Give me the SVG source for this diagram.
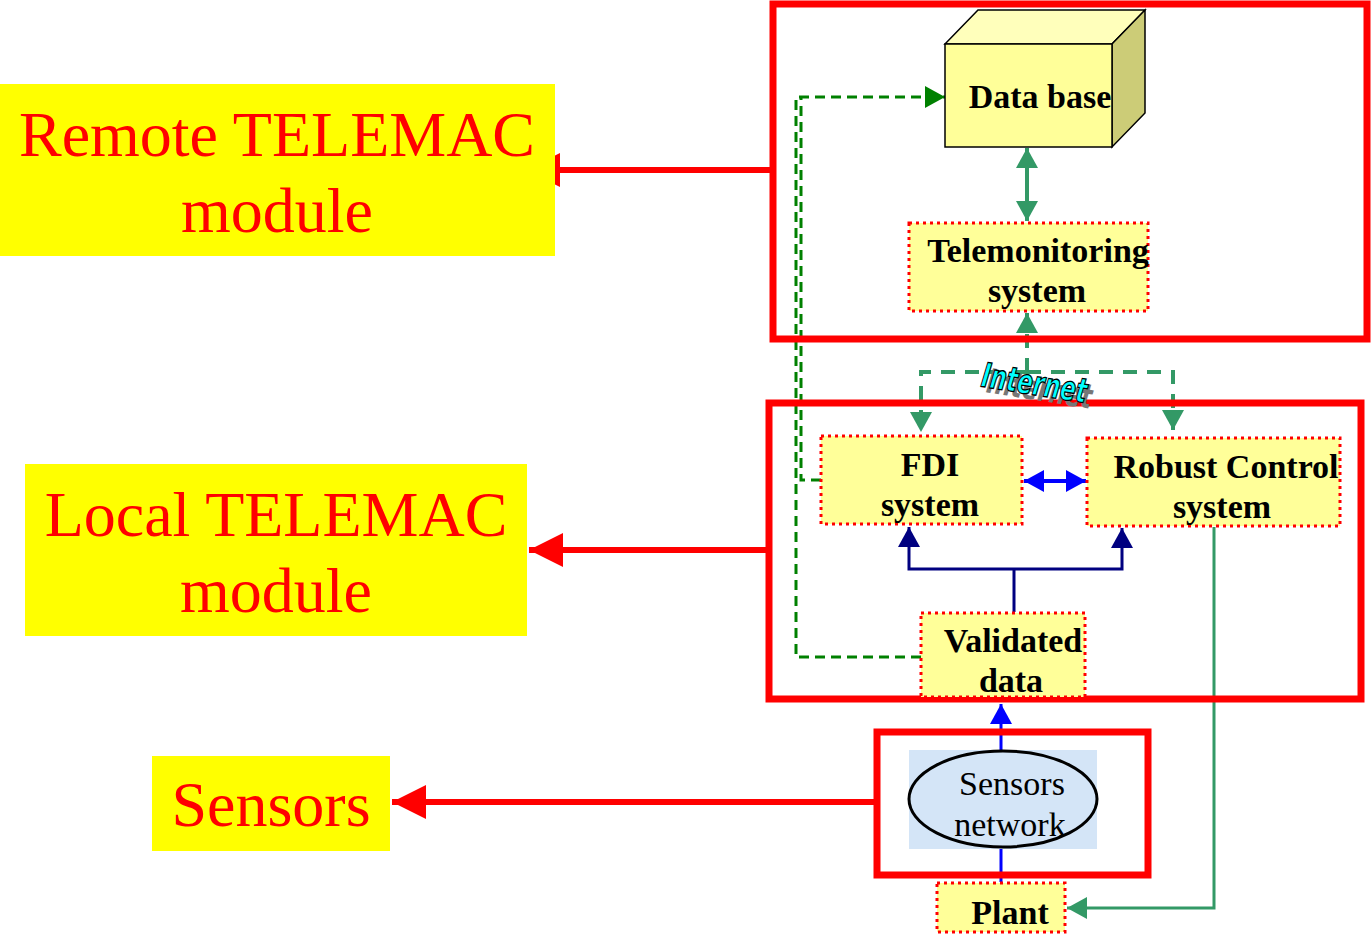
<svg xmlns="http://www.w3.org/2000/svg" width="1372" height="938" viewBox="0 0 1372 938">
<style>
.lbl{fill:#FFFF00}
.lt{font-family:"Liberation Serif",serif;fill:#FF0000;text-anchor:middle}
.frame{fill:none;stroke:#FF0000;stroke-width:7}
.box{fill:#FFFF99;stroke:#FF0000;stroke-width:3;stroke-dasharray:3 4}
.bt{font-family:"Liberation Serif",serif;font-weight:bold;font-size:34px;fill:#000;text-anchor:middle}
.redline{stroke:#FF0000;stroke-width:6;fill:none}
.gdash{stroke:#339966;stroke-width:4;fill:none;stroke-dasharray:14 10}
.ddash{stroke:#008000;stroke-width:3;fill:none;stroke-dasharray:10 6}
</style>
<defs>
<marker id="redArrow" markerWidth="36" markerHeight="36" refX="34" refY="17" orient="auto" markerUnits="userSpaceOnUse"><path d="M0,0 L34,17 L0,34 Z" fill="#FF0000"/></marker>
<marker id="gArrow" markerWidth="22" markerHeight="22" refX="20" refY="11" orient="auto" markerUnits="userSpaceOnUse"><path d="M0,0 L20,11 L0,22 Z" fill="#339966"/></marker>
<marker id="dgArrow" markerWidth="22" markerHeight="22" refX="20" refY="11" orient="auto" markerUnits="userSpaceOnUse"><path d="M0,0 L20,11 L0,22 Z" fill="#008000"/></marker>
<marker id="bArrow" markerWidth="22" markerHeight="22" refX="20" refY="11" orient="auto" markerUnits="userSpaceOnUse"><path d="M0,0 L20,11 L0,22 Z" fill="#0000FF"/></marker>
<marker id="nArrow" markerWidth="22" markerHeight="22" refX="20" refY="11" orient="auto" markerUnits="userSpaceOnUse"><path d="M0,0 L20,11 L0,22 Z" fill="#000080"/></marker>
</defs>
<rect width="1372" height="938" fill="#FFFFFF"/>

<g id="connectors">
<path class="redline" d="M770,170 L526,170" marker-end="url(#redArrow)"/>
<path class="redline" d="M766,550 L529,550" marker-end="url(#redArrow)"/>
<path class="redline" d="M875,802 L392,802" marker-end="url(#redArrow)"/>
<path d="M1027,170 L1027,200" stroke="#339966" stroke-width="4"/>
<path d="M1027,185 L1027,148" stroke="#339966" stroke-width="4" marker-end="url(#gArrow)"/>
<path d="M1027,185 L1027,221" stroke="#339966" stroke-width="4" marker-end="url(#gArrow)"/>
<path class="gdash" d="M1027,372 L1027,313" marker-end="url(#gArrow)"/>
<path class="gdash" d="M1027,372 L921,372 L921,432" marker-end="url(#gArrow)"/>
<path class="gdash" d="M1027,372 L1173,372 L1173,430" marker-end="url(#gArrow)"/>
<path class="ddash" d="M921,657 L796,657 L796,97 L945,97" marker-end="url(#dgArrow)"/>
<path class="ddash" d="M821,480 L801,480 L801,97"/>
<path d="M1054,481 L1024,481" stroke="#0000FF" stroke-width="4" marker-end="url(#bArrow)"/>
<path d="M1054,481 L1086,481" stroke="#0000FF" stroke-width="4" marker-end="url(#bArrow)"/>
<path d="M1014,612 L1014,569" stroke="#000080" stroke-width="3" fill="none"/>
<path d="M1014,569 L909,569 L909,527" stroke="#000080" stroke-width="3" fill="none" marker-end="url(#nArrow)"/>
<path d="M1014,569 L1122,569 L1122,528" stroke="#000080" stroke-width="3" fill="none" marker-end="url(#nArrow)"/>
<path d="M1214,527 L1214,908 L1067,908" stroke="#339966" stroke-width="3" fill="none" marker-end="url(#gArrow)"/>
<path d="M1001,882 L1001,849" stroke="#0000FF" stroke-width="3"/>
<path d="M1001,751 L1001,704" stroke="#0000FF" stroke-width="3" marker-end="url(#bArrow)"/>
</g>

<g id="remote-label">
<rect class="lbl" x="0" y="84" width="555" height="172"/>
<text class="lt" x="277" y="156" font-size="64">Remote TELEMAC</text>
<text class="lt" x="277" y="232" font-size="64">module</text>
</g>
<g id="local-label">
<rect class="lbl" x="25" y="464" width="502" height="172"/>
<text class="lt" x="276" y="536" font-size="64">Local TELEMAC</text>
<text class="lt" x="276" y="612" font-size="64">module</text>
</g>
<g id="sensors-label">
<rect class="lbl" x="152" y="756" width="238" height="95"/>
<text class="lt" x="271" y="826" font-size="64">Sensors</text>
</g>

<g id="remote-frame"><rect class="frame" x="773" y="4" width="594" height="335"/></g>
<g id="local-frame"><rect class="frame" x="769" y="403" width="592" height="296"/></g>
<g id="sensors-frame"><rect class="frame" x="877" y="732" width="271" height="143"/></g>

<g id="database">
<path d="M945,44 L978,10 L1145,10 L1112,44 Z" fill="#FFFFBB" stroke="#000" stroke-width="1.5"/>
<path d="M1112,44 L1145,10 L1145,113 L1112,147 Z" fill="#CCCC77" stroke="#000" stroke-width="1.5"/>
<rect x="945" y="44" width="167" height="103" fill="#FFFF99" stroke="#000" stroke-width="1.5"/>
<text class="bt" x="1040" y="108">Data base</text>
</g>

<g id="telemonitoring">
<rect class="box" x="909" y="223" width="239" height="88"/>
<text class="bt" x="1038" y="262">Telemonitoring</text>
<text class="bt" x="1037" y="302">system</text>
</g>

<g id="internet">
<g transform="rotate(9 1036 380)">
<text x="1041" y="400" font-family="DejaVu Sans Condensed, DejaVu Sans, sans-serif" font-style="oblique" font-weight="bold" font-size="34" text-anchor="middle" fill="#777777" textLength="106" lengthAdjust="spacingAndGlyphs">Internet</text>
<text x="1035" y="395" font-family="DejaVu Sans Condensed, DejaVu Sans, sans-serif" font-style="oblique" font-weight="bold" font-size="34" text-anchor="middle" fill="#00FFFF" stroke="#000" stroke-width="1.3" textLength="106" lengthAdjust="spacingAndGlyphs">Internet</text>
</g>
</g>

<g id="fdi">
<rect class="box" x="821" y="436" width="201" height="88"/>
<text class="bt" x="930" y="476">FDI</text>
<text class="bt" x="930" y="516">system</text>
</g>

<g id="robust">
<rect class="box" x="1087" y="438" width="253" height="88"/>
<text class="bt" x="1226" y="478">Robust Control</text>
<text class="bt" x="1222" y="518">system</text>
</g>

<g id="validated">
<rect class="box" x="921" y="613" width="164" height="84"/>
<text class="bt" x="1013" y="652">Validated</text>
<text class="bt" x="1011" y="692">data</text>
</g>

<g id="sensors-network">
<rect x="909" y="750" width="188" height="99" fill="#D4E5F7"/>
<ellipse cx="1003" cy="799" rx="94" ry="48" fill="#D4E5F7" stroke="#000" stroke-width="3"/>
<text x="1012" y="795" font-family="Liberation Serif, serif" font-size="34" text-anchor="middle" fill="#000">Sensors</text>
<text x="1010" y="836" font-family="Liberation Serif, serif" font-size="34" text-anchor="middle" fill="#000">network</text>
</g>

<g id="plant">
<rect class="box" x="937" y="883" width="128" height="49"/>
<text class="bt" x="1010" y="924">Plant</text>
</g>
</svg>
